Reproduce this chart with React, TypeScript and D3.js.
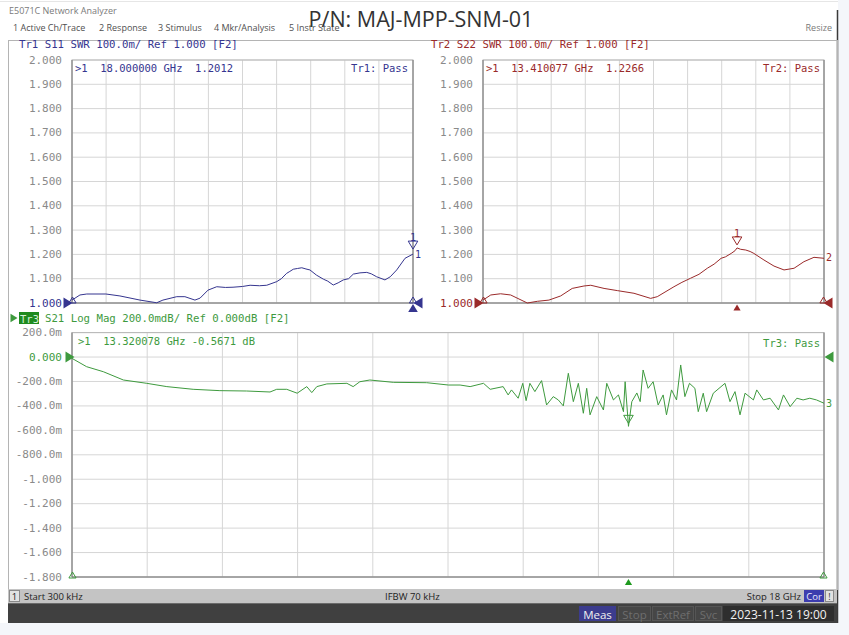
import React from "react";
import * as d3 from "d3";

// ---------- DATA ----------
const S11_FREQ = [0.0003, 0.42, 0.78, 1.79, 2.53, 3.59, 4.47, 4.8, 5.53, 5.96, 6.49, 6.76, 7.18, 7.64, 8.1, 8.5, 9.0, 9.4, 9.9, 10.28, 10.81, 11.05, 11.33, 11.5, 11.68, 11.9, 12.13, 12.35, 12.56, 12.9, 13.27, 13.5, 13.79, 14.05, 14.32, 14.6, 14.85, 15.2, 15.56, 15.8, 16.08, 16.52, 16.8, 17.14, 17.58, 18.0];
const S11_SWR = [1.012, 1.033, 1.037, 1.037, 1.029, 1.012, 1.001, 1.012, 1.026, 1.026, 1.012, 1.02, 1.053, 1.067, 1.064, 1.065, 1.068, 1.073, 1.071, 1.073, 1.088, 1.1, 1.122, 1.13, 1.139, 1.142, 1.145, 1.14, 1.136, 1.115, 1.098, 1.09, 1.074, 1.083, 1.095, 1.1, 1.119, 1.124, 1.126, 1.12, 1.108, 1.095, 1.108, 1.136, 1.184, 1.2012];

const S22_FREQ = [0.0003, 0.41, 0.93, 1.46, 2.34, 2.87, 3.48, 4.1, 4.71, 5.33, 5.69, 6.39, 7.09, 7.97, 8.85, 9.2, 10.08, 10.5, 10.96, 11.4, 11.84, 12.2, 12.57, 12.8, 13.1, 13.3, 13.41, 13.6, 13.87, 14.1, 14.3, 14.83, 15.36, 15.89, 16.42, 16.94, 17.47, 18.0];
const S22_SWR = [1.012, 1.033, 1.038, 1.033, 1.0, 1.007, 1.012, 1.029, 1.06, 1.07, 1.073, 1.06, 1.051, 1.04, 1.019, 1.026, 1.067, 1.085, 1.102, 1.118, 1.143, 1.16, 1.184, 1.19, 1.204, 1.215, 1.2266, 1.221, 1.218, 1.212, 1.204, 1.177, 1.152, 1.136, 1.143, 1.17, 1.188, 1.184];

const S21_FREQ = [0.0, 0.35, 0.75, 1.23, 1.79, 2.27, 2.9, 3.54, 4.18, 4.74, 4.9, 5.14, 5.39, 5.62, 5.74, 5.86, 6.1, 6.58, 6.73, 6.89, 7.13, 7.69, 8.49, 9.01, 9.29, 9.53, 9.85, 10.01, 10.32, 10.44, 10.52, 10.68, 10.79, 10.87, 10.96, 11.08, 11.24, 11.36, 11.52, 11.64, 11.76, 11.88, 12.0, 12.12, 12.24, 12.32, 12.4, 12.56, 12.72, 12.8, 12.96, 13.08, 13.2, 13.24, 13.32, 13.4, 13.52, 13.6, 13.67, 13.79, 13.91, 14.03, 14.15, 14.23, 14.35, 14.47, 14.57, 14.67, 14.78, 14.91, 14.99, 15.11, 15.19, 15.35, 15.63, 15.75, 15.87, 15.99, 16.11, 16.31, 16.39, 16.55, 16.71, 16.91, 17.03, 17.19, 17.35, 17.5, 17.66, 17.82, 18.0];
const S21_DB = [-0.011, -0.079, -0.12, -0.188, -0.215, -0.242, -0.264, -0.275, -0.278, -0.286, -0.264, -0.264, -0.296, -0.242, -0.291, -0.242, -0.22, -0.215, -0.242, -0.202, -0.188, -0.207, -0.21, -0.229, -0.229, -0.242, -0.215, -0.264, -0.242, -0.31, -0.269, -0.337, -0.215, -0.357, -0.215, -0.283, -0.193, -0.392, -0.324, -0.351, -0.4, -0.133, -0.365, -0.215, -0.46, -0.256, -0.473, -0.324, -0.433, -0.215, -0.351, -0.31, -0.447, -0.202, -0.5671, -0.365, -0.294, -0.365, -0.106, -0.256, -0.202, -0.392, -0.31, -0.473, -0.269, -0.351, -0.065, -0.324, -0.215, -0.256, -0.447, -0.296, -0.447, -0.296, -0.215, -0.365, -0.283, -0.473, -0.296, -0.351, -0.269, -0.351, -0.337, -0.433, -0.31, -0.406, -0.337, -0.351, -0.337, -0.351, -0.378];

const SWR_TICKS = [2.0, 1.9, 1.8, 1.7, 1.6, 1.5, 1.4, 1.3, 1.2, 1.1, 1.0];
const SWR_LABELS = ["2.000", "1.900", "1.800", "1.700", "1.600", "1.500", "1.400", "1.300", "1.200", "1.100", "1.000"];
const DB_TICKS = [0.2, 0.0, -0.2, -0.4, -0.6, -0.8, -1.0, -1.2, -1.4, -1.6, -1.8];
const DB_LABELS = ["200.0m", "0.000", "-200.0m", "-400.0m", "-600.0m", "-800.0m", "-1.000", "-1.200", "-1.400", "-1.600", "-1.800"];

const MENU = ["1 Active Ch/Trace", "2 Response", "3 Stimulus", "4 Mkr/Analysis", "5 Instr State"];
const MENU_X = [13, 99, 158, 214, 289];

const TITLE = "P/N: MAJ-MPP-SNM-01";

// ---------- STYLE ----------
const MONO = "'DejaVu Sans Mono', 'Liberation Mono', monospace";
const SANS = "'Open Sans', 'Noto Sans', sans-serif";
const C11 = "#35358f";
const C22 = "#9a2a2a";
const C21 = "#3e9a3e";
const GRID = "#d6d6d6";
const AXIS = "#7a7a7a";
const LBL = "#8a8a8a";
const PRE = { whiteSpace: "pre" as const };

const F_MIN = 0.0003;
const F_MAX = 18;

function tri(cx: number, cy: number, dir: "up" | "down" | "left" | "right", s: number) {
  const h = s;
  const w = s * 0.6;
  if (dir === "up") return `M${cx},${cy - h / 2}L${cx + w},${cy + h / 2}L${cx - w},${cy + h / 2}Z`;
  if (dir === "down") return `M${cx},${cy + h / 2}L${cx + w},${cy - h / 2}L${cx - w},${cy - h / 2}Z`;
  if (dir === "right") return `M${cx + h / 2},${cy}L${cx - h / 2},${cy - w}L${cx - h / 2},${cy + w}Z`;
  return `M${cx - h / 2},${cy}L${cx + h / 2},${cy - w}L${cx + h / 2},${cy + w}Z`;
}

type PanelProps = {
  x0: number; x1: number; y0: number; y1: number;
  ticks: number[]; labels: string[]; dom: [number, number];
  freq: number[]; vals: number[]; color: string; refIndex: number; refColor: string;
};

function Grid({ x0, x1, y0, y1, ticks, labels, dom, refIndex, refColor }: PanelProps) {
  const y = d3.scaleLinear().domain(dom).range([y1, y0]);
  const xs = d3.range(11).map((i) => x0 + ((x1 - x0) * i) / 10);
  return (
    <g>
      <rect x={x0} y={y0} width={x1 - x0} height={y1 - y0} fill="#fff" />
      {ticks.map((t, i) => (
        <line key={"h" + i} x1={x0} x2={x1} y1={y(t)} y2={y(t)} stroke={GRID} strokeWidth={1} />
      ))}
      {xs.map((xx, i) => (
        <line key={"v" + i} x1={xx} x2={xx} y1={y0} y2={y1} stroke={GRID} strokeWidth={1} />
      ))}
      <rect x={x0} y={y0} width={x1 - x0} height={y1 - y0} fill="none" stroke="#b8b8b8" strokeWidth={1} />
      <line x1={x0} x2={x0} y1={y0} y2={y1} stroke={AXIS} />
      <line x1={x1} x2={x1} y1={y0} y2={y1} stroke={AXIS} />
      <line x1={x0} x2={x1} y1={y1} y2={y1} stroke={AXIS} />
      {ticks.map((t, i) => (
        <text key={"l" + i} x={x0 - 10} y={y(t)} textAnchor="end" dominantBaseline="central"
          fontFamily={MONO} fontSize={11} fill={i === refIndex ? refColor : LBL}>{labels[i]}</text>
      ))}
    </g>
  );
}

function Trace({ x0, x1, y0, y1, dom, freq, vals, color }: PanelProps) {
  const x = d3.scaleLinear().domain([F_MIN, F_MAX]).range([x0, x1]);
  const y = d3.scaleLinear().domain(dom).range([y1, y0]);
  const line = d3.line<number>().x((_, i) => x(Math.max(freq[i], F_MIN))).y((v) => y(v));
  return <path d={line(vals) || ""} fill="none" stroke={color} strokeWidth={1} strokeLinejoin="round" />;
}

export default function App() {
  const p11: PanelProps = { x0: 72, x1: 413, y0: 60, y1: 303, ticks: SWR_TICKS, labels: SWR_LABELS, dom: [1, 2], freq: S11_FREQ, vals: S11_SWR, color: C11, refIndex: 10, refColor: C11 };
  const p22: PanelProps = { x0: 483, x1: 824, y0: 60, y1: 303, ticks: SWR_TICKS, labels: SWR_LABELS, dom: [1, 2], freq: S22_FREQ, vals: S22_SWR, color: C22, refIndex: 10, refColor: C22 };
  const p21: PanelProps = { x0: 72, x1: 824, y0: 332.6, y1: 577, ticks: DB_TICKS, labels: DB_LABELS, dom: [-1.8, 0.2], freq: S21_FREQ, vals: S21_DB, color: C21, refIndex: 1, refColor: C21 };

  const x11 = d3.scaleLinear().domain([F_MIN, F_MAX]).range([p11.x0, p11.x1]);
  const y11 = d3.scaleLinear().domain([1, 2]).range([303, 60]);
  const x22 = d3.scaleLinear().domain([F_MIN, F_MAX]).range([p22.x0, p22.x1]);
  const x21 = d3.scaleLinear().domain([F_MIN, F_MAX]).range([p21.x0, p21.x1]);
  const y21 = d3.scaleLinear().domain([-1.8, 0.2]).range([577, 332.6]);

  const m11f = S11_FREQ[S11_FREQ.length - 1];
  const m11v = S11_SWR[S11_SWR.length - 1];
  const m22i = S22_FREQ.indexOf(13.41);
  const m21i = S21_FREQ.indexOf(13.32);

  return (
    <svg width={849} height={635} style={{ position: "absolute", left: 0, top: 0 }}>
      <rect x={0} y={0} width={849} height={635} fill="#f4f6fa" />
      <rect x={0} y={0} width={838} height={623} fill="#ffffff" />
      <line x1={0} x2={838} y1={1.5} y2={1.5} stroke="#e6e6e6" />
      <line x1={837.5} x2={837.5} y1={10} y2={623} stroke="#3a3a3a" strokeWidth={1.5} />

      {/* window title & menu */}
      <text x={9} y={14} fontFamily={SANS} fontSize={9} fill="#7a7a7a">E5071C Network Analyzer</text>
      {MENU.map((m, i) => (
        <text key={m} x={MENU_X[i]} y={31} fontFamily={SANS} fontSize={9} fill="#505050">{m}</text>
      ))}
      <text x={832} y={31} textAnchor="end" fontFamily={SANS} fontSize={9} fill="#7a7a7a">Resize</text>
      <text x={421} y={27} textAnchor="middle" fontFamily={SANS} fontSize={21.5} fill="#333">{TITLE}</text>

      {/* instrument frame */}
      <rect x={8.5} y={40.5} width={829} height={549} fill="none" stroke="#b4b4b4" />

      {/* headers */}
      <text x={19} y={44} dominantBaseline="central" fontFamily={MONO} fontSize={10.7} fill={C11} style={PRE}>Tr1 S11 SWR 100.0m/ Ref 1.000 [F2]</text>
      <text x={431} y={44} dominantBaseline="central" fontFamily={MONO} fontSize={10.7} fill={C22} style={PRE}>Tr2 S22 SWR 100.0m/ Ref 1.000 [F2]</text>
      <path d={tri(14, 318, "right", 7)} fill={C21} />
      <rect x={19} y={312} width={20} height={12} fill="#1f8a1f" />
      <text x={20} y={318.5} dominantBaseline="central" fontFamily={MONO} fontSize={10.5} fill="#d8f0d8">Tr3</text>
      <text x={45} y={318} dominantBaseline="central" fontFamily={MONO} fontSize={10.7} fill={C21} style={PRE}>S21 Log Mag 200.0mdB/ Ref 0.000dB [F2]</text>

      {/* panels */}
      <Grid {...p11} />
      <Grid {...p22} />
      <Grid {...p21} />

      <Trace {...p11} />
      <Trace {...p22} />
      <Trace {...p21} />

      {/* readouts */}
      <text x={75} y={68} dominantBaseline="central" fontFamily={MONO} fontSize={10.5} fill={C11} style={PRE}>{">1  18.000000 GHz  1.2012"}</text>
      <text x={408} y={68} textAnchor="end" dominantBaseline="central" fontFamily={MONO} fontSize={10.5} fill={C11} style={PRE}>Tr1: Pass</text>
      <text x={486} y={68} dominantBaseline="central" fontFamily={MONO} fontSize={10.5} fill={C22} style={PRE}>{">1  13.410077 GHz  1.2266"}</text>
      <text x={820} y={68} textAnchor="end" dominantBaseline="central" fontFamily={MONO} fontSize={10.5} fill={C22} style={PRE}>Tr2: Pass</text>
      <text x={78} y={341} dominantBaseline="central" fontFamily={MONO} fontSize={10.5} fill={C21} style={PRE}>{">1  13.320078 GHz -0.5671 dB"}</text>
      <text x={820} y={343} textAnchor="end" dominantBaseline="central" fontFamily={MONO} fontSize={10.5} fill={C21} style={PRE}>Tr3: Pass</text>

      {/* S11 markers */}
      <path d={tri(68, 303, "right", 9)} fill={C11} />
      <path d={tri(418, 303, "left", 9)} fill={C11} />
      <path d={tri(413, 308, "up", 8)} fill={C11} />
      <path d={tri(72.5, 300, "up", 6)} fill="none" stroke={C11} />
      <path d={tri(413, 300, "up", 6)} fill="none" stroke={C11} />
      <path d={tri(x11(m11f), y11(m11v) - 9, "down", 8)} fill="none" stroke={C11} />
      <text x={x11(m11f)} y={237} textAnchor="middle" dominantBaseline="central" fontFamily={MONO} fontSize={10} fill={C11}>1</text>
      <text x={415} y={254} dominantBaseline="central" fontFamily={MONO} fontSize={10} fill={C11}>1</text>

      {/* S22 markers */}
      <path d={tri(479, 303, "right", 9)} fill={C22} />
      <path d={tri(828, 303, "left", 9)} fill={C22} />
      <path d={tri(483.5, 300, "up", 6)} fill="none" stroke={C22} />
      <path d={tri(823.5, 300, "up", 6)} fill="none" stroke={C22} />
      <path d={tri(x22(S22_FREQ[m22i]), y11(S22_SWR[m22i]) - 7, "down", 8)} fill="#fff" stroke={C22} />
      <text x={x22(S22_FREQ[m22i])} y={233} textAnchor="middle" dominantBaseline="central" fontFamily={MONO} fontSize={10} fill={C22}>1</text>
      <path d={tri(x22(S22_FREQ[m22i]), 307.5, "up", 6)} fill={C22} />
      <text x={826} y={257} dominantBaseline="central" fontFamily={MONO} fontSize={10} fill={C22}>2</text>

      {/* S21 markers */}
      <path d={tri(70, 357, "right", 9)} fill={C21} />
      <path d={tri(829, 357, "left", 9)} fill={C21} />
      <path d={tri(72.5, 575, "up", 6)} fill="none" stroke={C21} />
      <path d={tri(823.5, 575, "up", 6)} fill="none" stroke={C21} />
      <path d={tri(x21(S21_FREQ[m21i]), y21(S21_DB[m21i]) - 7, "down", 8)} fill="none" stroke={C21} />
      <path d={tri(x21(S21_FREQ[m21i]), 582, "up", 6)} fill="#1f9a1f" />
      <text x={826} y={403} dominantBaseline="central" fontFamily={MONO} fontSize={10} fill={C21}>3</text>

      {/* status bar */}
      <rect x={8} y={589} width={829} height={14} fill="#c4c4c4" />
      <rect x={9.5} y={590.5} width={10} height={11} fill="#e2e2e2" stroke="#8a8a8a" />
      <text x={14.5} y={596.5} textAnchor="middle" dominantBaseline="central" fontFamily={SANS} fontSize={9.5} fill="#222">1</text>
      <text x={24} y={596.5} dominantBaseline="central" fontFamily={SANS} fontSize={9.5} fill="#222">Start 300 kHz</text>
      <text x={385} y={596.5} dominantBaseline="central" fontFamily={SANS} fontSize={9.5} fill="#222">IFBW 70 kHz</text>
      <text x={801} y={596.5} textAnchor="end" dominantBaseline="central" fontFamily={SANS} fontSize={9.5} fill="#222">Stop 18 GHz</text>
      <rect x={804} y={590} width={20} height={12} fill="#3c3cae" />
      <text x={814} y={596.5} textAnchor="middle" dominantBaseline="central" fontFamily={SANS} fontSize={9.5} fill="#e8e8ff">Cor</text>
      <rect x={825.5} y={590.5} width={8} height={11} fill="#e2e2e2" stroke="#8a8a8a" />
      <text x={829.5} y={596.5} textAnchor="middle" dominantBaseline="central" fontFamily={SANS} fontSize={9} fill="#333">!</text>

      <rect x={8} y={603} width={829} height={20} fill="#404040" />
      <line x1={8} x2={837} y1={603.5} y2={603.5} stroke="#6a6a6a" />
      <rect x={579} y={606} width={37} height={15} fill="#3c3c8e" />
      <text x={597.5} y={614} textAnchor="middle" dominantBaseline="central" fontFamily={SANS} fontSize={11.5} fill="#f0f0f0">Meas</text>
      <rect x={618.5} y={606.5} width={32} height={14} fill="#464646" stroke="#555" />
      <text x={634.5} y={614} textAnchor="middle" dominantBaseline="central" fontFamily={SANS} fontSize={11.5} fill="#6e6e6e">Stop</text>
      <rect x={652.5} y={606.5} width={41} height={14} fill="#464646" stroke="#555" />
      <text x={673} y={614} textAnchor="middle" dominantBaseline="central" fontFamily={SANS} fontSize={11.5} fill="#6e6e6e">ExtRef</text>
      <rect x={695.5} y={606.5} width={26} height={14} fill="#464646" stroke="#555" />
      <text x={708.5} y={614} textAnchor="middle" dominantBaseline="central" fontFamily={SANS} fontSize={11.5} fill="#6e6e6e">Svc</text>
      <rect x={723} y={606} width={111} height={15} fill="#2e2e2e" />
      <text x={778.5} y={614} textAnchor="middle" dominantBaseline="central" fontFamily={SANS} fontSize={12} fill="#f2f2f2">2023-11-13 19:00</text>
    </svg>
  );
}
